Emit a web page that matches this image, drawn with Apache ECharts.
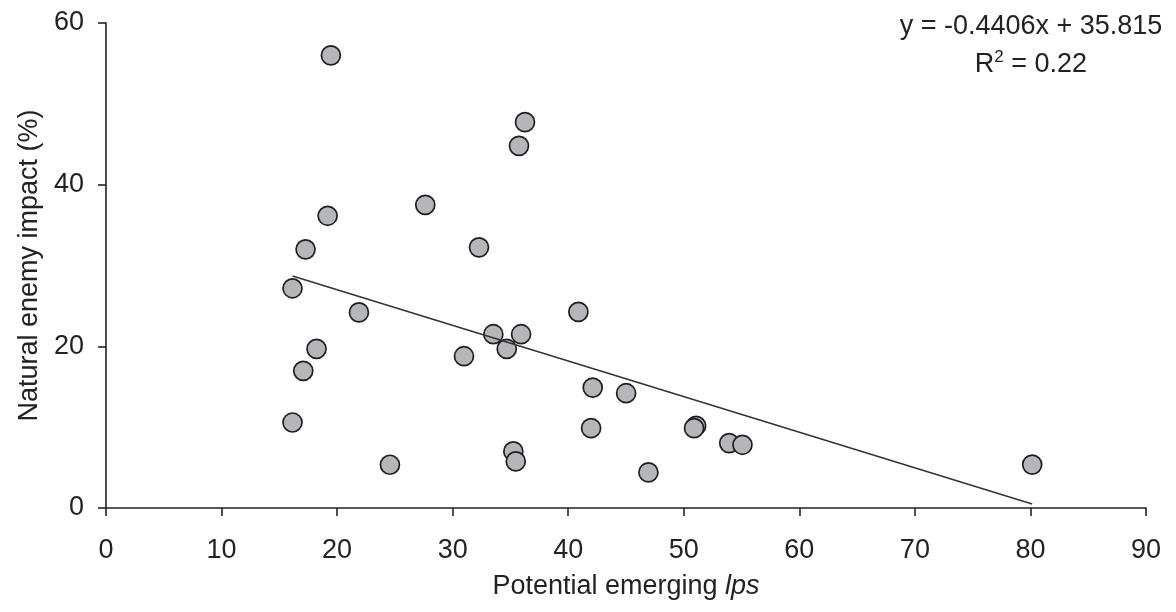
<!DOCTYPE html>
<html>
<head>
<meta charset="utf-8">
<script src="https://cdn.jsdelivr.net/npm/echarts@6/dist/echarts.min.js"></script>
<style>
  html, body { margin: 0; padding: 0; background: #fff; }
  #chart { width: 1176px; height: 612px; }
</style>
</head>
<body>
<div id="chart"></div>
<script>
// Potential emerging lps vs. natural enemy impact (%)
var emergingLps = [16.14, 16.14, 17.07, 17.27, 18.22, 19.18, 19.46, 21.89, 24.57, 27.63,
                   30.98, 32.28, 33.52, 34.68, 35.25, 35.46, 35.74, 35.92, 36.26, 40.88,
                   41.98, 42.12, 45.01, 46.94, 51.07, 50.89, 53.93, 55.08, 80.15];
var enemyImpact = [27.18, 10.58, 16.97, 32.0, 19.68, 36.15, 56.0, 24.2, 5.35, 37.5,
                   18.78, 32.25, 21.5, 19.68, 7.0, 5.76, 44.8, 21.5, 47.73, 24.26,
                   9.88, 14.9, 14.2, 4.4, 10.17, 9.88, 8.03, 7.82, 5.37];

// Linear fit reported on the chart
var fitSlope = -0.4406;
var fitIntercept = 35.815;
var fitR2 = '0.22';

var xTicks = [0, 10, 20, 30, 40, 50, 60, 70, 80, 90];
var yTicks = [0, 20, 40, 60];

var FONT = "'Liberation Sans', Arial, Helvetica, sans-serif";
var INK = '#222222';

var points = emergingLps.map(function (x, i) { return [x, enemyImpact[i]]; });
var xMin = Math.min.apply(null, emergingLps);
var xMax = Math.max.apply(null, emergingLps);
var fitLine = [
  [xMin, fitSlope * xMin + fitIntercept],
  [xMax, fitSlope * xMax + fitIntercept]
];

var chart = echarts.init(document.getElementById('chart'), null, { renderer: 'canvas' });

function axisCommon(ticks, name, labelMargin) {
  return {
    type: 'value',
    min: ticks[0],
    max: ticks[ticks.length - 1],
    interval: ticks[1] - ticks[0],
    name: name,
    nameLocation: 'middle',
    nameTextStyle: { fontFamily: FONT, fontSize: 27, color: INK },
    axisLine: { show: true, onZero: false, lineStyle: { color: INK, width: 1.6 } },
    axisTick: { show: true, inside: false, length: 8, lineStyle: { color: INK, width: 1.6 } },
    axisLabel: { fontFamily: FONT, fontSize: 27, color: INK, margin: labelMargin },
    splitLine: { show: false }
  };
}

var xAxis = axisCommon(xTicks, '', 29);
xAxis.name = '{n|Potential emerging }{i|lps}';
xAxis.nameGap = 65;
xAxis.nameTextStyle.rich = {
  n: { fontFamily: FONT, fontSize: 27, color: INK },
  i: { fontFamily: FONT, fontSize: 27, color: INK, fontStyle: 'italic' }
};

var yAxis = axisCommon(yTicks, 'Natural enemy impact (%)', 22);
yAxis.nameGap = 60;
yAxis.nameRotate = 90;

chart.setOption({
  backgroundColor: '#ffffff',
  animation: false,
  grid: { left: 106, right: 30, top: 23, bottom: 104, outerBoundsMode: 'none', containLabel: false },
  xAxis: xAxis,
  yAxis: yAxis,
  graphic: [
    {
      type: 'text',
      x: 1031, y: 27,
      style: {
        text: 'y = ' + fitSlope + 'x + ' + fitIntercept,
        font: '27px ' + FONT,
        fill: INK,
        align: 'center',
        verticalAlign: 'middle'
      }
    },
    {
      type: 'text',
      x: 1031, y: 65,
      style: {
        text: '{b|R}{s|2}{b| = ' + fitR2 + '}',
        fill: INK,
        align: 'center',
        verticalAlign: 'middle',
        rich: {
          b: { fontFamily: FONT, fontSize: 27, color: INK },
          s: { fontFamily: FONT, fontSize: 17, color: INK, padding: [0, 0, 16, 0] }
        }
      }
    }
  ],
  series: [
    {
      type: 'scatter',
      data: points,
      symbol: 'circle',
      symbolSize: 19,
      itemStyle: { color: '#b5b6ba', borderColor: '#1e1e1e', borderWidth: 1.7, opacity: 1 },
      z: 2
    },
    {
      type: 'line',
      data: fitLine,
      symbol: 'none',
      lineStyle: { color: '#333333', width: 1.6 },
      z: 3
    }
  ]
});
</script>
</body>
</html>
